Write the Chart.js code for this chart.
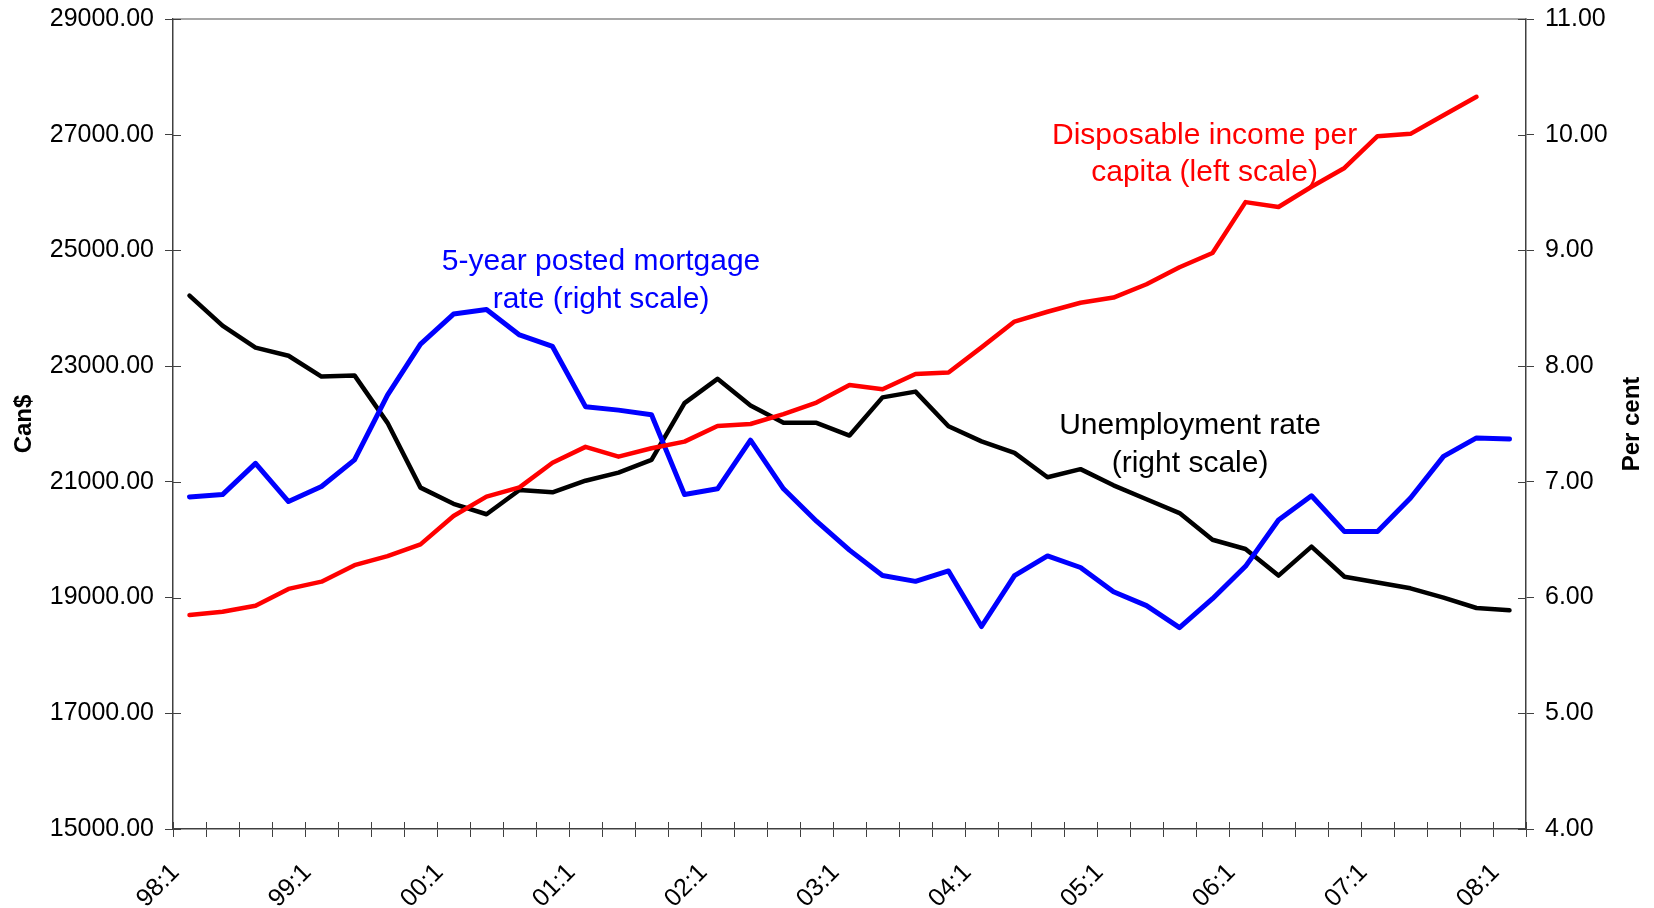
<!DOCTYPE html>
<html>
<head>
<meta charset="utf-8">
<script src="https://cdn.jsdelivr.net/npm/chart.js@4.4.1/dist/chart.umd.min.js"></script>
<style>
  html, body { margin: 0; padding: 0; background: #fff; }
  #wrap { width: 1654px; height: 908px; }
</style>
</head>
<body>
<div id="wrap"><canvas id="chart" width="1654" height="908"></canvas></div>
<script>
// quarters 98:1 .. 08:1
var quarters = [
  "98:1", "98:2", "98:3", "98:4", "99:1", "99:2", "99:3", "99:4",
  "00:1", "00:2", "00:3", "00:4", "01:1", "01:2", "01:3", "01:4",
  "02:1", "02:2", "02:3", "02:4", "03:1", "03:2", "03:3", "03:4",
  "04:1", "04:2", "04:3", "04:4", "05:1", "05:2", "05:3", "05:4",
  "06:1", "06:2", "06:3", "06:4", "07:1", "07:2", "07:3", "07:4",
  "08:1"
];

// Can$ (left scale), last quarter not available
var incomePerCapita = [
  18700, 18755, 18860, 19150, 19275, 19560, 19715, 19920,
  20410, 20745, 20905, 21330, 21605, 21435, 21580, 21695,
  21965, 22000, 22170, 22370, 22675, 22600, 22865, 22890,
  23325, 23770, 23940, 24095, 24185, 24415, 24710, 24955,
  25835, 25750, 26100, 26425, 26975, 27015, 27335, 27655,
  null
];

// per cent (right scale)
var mortgageRate = [
  6.87, 6.89, 7.16, 6.83, 6.96, 7.19, 7.75, 8.19,
  8.45, 8.49, 8.27, 8.17, 7.65, 7.62, 7.58, 6.89,
  6.94, 7.36, 6.94, 6.66, 6.41, 6.19, 6.14, 6.23,
  5.75, 6.19, 6.36, 6.26, 6.05, 5.93, 5.74, 5.99,
  6.27, 6.67, 6.88, 6.57, 6.57, 6.86, 7.22, 7.38,
  7.37
];

var unemploymentRate = [
  8.61, 8.35, 8.16, 8.09, 7.91, 7.92, 7.51, 6.95,
  6.81, 6.72, 6.93, 6.91, 7.01, 7.08, 7.19, 7.68,
  7.89, 7.66, 7.51, 7.51, 7.40, 7.73, 7.78, 7.48,
  7.35, 7.25, 7.04, 7.11, 6.97, 6.85, 6.73, 6.50,
  6.42, 6.19, 6.44, 6.18, 6.13, 6.08, 6.00, 5.91,
  5.89
];

var leftTicks = [15000, 17000, 19000, 21000, 23000, 25000, 27000, 29000];
var rightTicks = [4, 5, 6, 7, 8, 9, 10, 11];

// in-chart labels: first line centred at (quarter index, right-scale value)
var notes = [
  { lines: ["5-year posted mortgage", "rate (right scale)"], color: "#0000ff", at: [12.47, 8.905], gap: 38 },
  { lines: ["Disposable income per", "capita (left scale)"], color: "#ff0000", at: [30.76, 9.99], gap: 37 },
  { lines: ["Unemployment rate", "(right scale)"], color: "#000000", at: [30.32, 7.488], gap: 38 }
];

var FONT = "'Liberation Sans', Arial, sans-serif";
var axisColor = "#404040";

// short ticks crossing into the plot, grey top border, notes, right title
var extras = {
  id: "extras",
  afterDraw: function (chart) {
    var ctx = chart.ctx;
    var area = chart.chartArea;
    var x = chart.scales.x, y = chart.scales.y, y2 = chart.scales.y2;
    ctx.save();

    ctx.strokeStyle = "#8a8a8a";
    ctx.lineWidth = 1.5;
    ctx.beginPath();
    ctx.moveTo(area.left, area.top);
    ctx.lineTo(area.right, area.top);
    ctx.stroke();

    ctx.strokeStyle = axisColor;
    ctx.lineWidth = 1;
    ctx.beginPath();
    for (var k = 0; k <= quarters.length; k++) {
      var px = Math.round(x.getPixelForValue(k - 0.5)) + 0.5;
      ctx.moveTo(px, area.bottom);
      ctx.lineTo(px, area.bottom - 7);
    }
    leftTicks.forEach(function (v) {
      var py = Math.round(y.getPixelForValue(v)) + 0.5;
      ctx.moveTo(area.left, py);
      ctx.lineTo(area.left + 8, py);
    });
    rightTicks.forEach(function (v) {
      var py = Math.round(y2.getPixelForValue(v)) + 0.5;
      ctx.moveTo(area.right, py);
      ctx.lineTo(area.right - 8, py);
    });
    ctx.stroke();

    ctx.textAlign = "center";
    ctx.textBaseline = "middle";
    ctx.font = "30px " + FONT;
    notes.forEach(function (n) {
      var cx = x.getPixelForValue(n.at[0]);
      var cy = y2.getPixelForValue(n.at[1]);
      ctx.fillStyle = n.color;
      n.lines.forEach(function (t, i) {
        ctx.fillText(t, cx, cy + i * n.gap);
      });
    });

    ctx.fillStyle = "#000";
    ctx.font = "bold 24px " + FONT;
    ctx.translate(y2.right - 22, (area.top + area.bottom) / 2);
    ctx.rotate(-Math.PI / 2);
    ctx.fillText("Per cent", 0, 0);
    ctx.restore();
  }
};

// fixed axis sizes so the plot area sits where the original has it
function fixWidth(w) {
  return function (s) {
    s.width = w;
    s.paddingTop = 0;
    s.paddingBottom = 0;
  };
}

var element = document.getElementById("chart");

var chart = new Chart(element, {
  type: "line",
  data: {
    labels: quarters,
    datasets: [
      {
        label: "Disposable income per capita (left scale)",
        data: incomePerCapita,
        yAxisID: "y",
        borderColor: "#ff0000",
        borderWidth: 4.5
      },
      {
        label: "5-year posted mortgage rate (right scale)",
        data: mortgageRate,
        yAxisID: "y2",
        borderColor: "#0000ff",
        borderWidth: 5
      },
      {
        label: "Unemployment rate (right scale)",
        data: unemploymentRate,
        yAxisID: "y2",
        borderColor: "#000000",
        borderWidth: 4.5
      }
    ]
  },
  options: {
    responsive: false,
    animation: false,
    devicePixelRatio: 1,
    layout: { padding: { top: 19, left: 0, right: 0, bottom: 0 } },
    elements: {
      point: { radius: 0 },
      line: { tension: 0, borderCapStyle: "round", borderJoinStyle: "round" }
    },
    plugins: {
      legend: { display: false },
      tooltip: { enabled: false }
    },
    scales: {
      x: {
        type: "category",
        offset: true,
        grid: {
          offset: true,
          drawOnChartArea: false,
          drawTicks: true,
          tickLength: 8,
          color: axisColor
        },
        border: { color: axisColor, width: 1.5 },
        ticks: {
          autoSkip: false,
          maxRotation: 45,
          minRotation: 45,
          padding: 21,
          labelOffset: -14,
          color: "#000",
          font: { family: FONT, size: 25 },
          callback: function (val, i) {
            return i % 4 === 0 ? quarters[i] : "";
          }
        },
        afterFit: function (s) { s.height = 79; }
      },
      y: {
        position: "left",
        min: 15000,
        max: 29000,
        grid: {
          drawOnChartArea: false,
          tickLength: 8,
          color: axisColor
        },
        border: { color: axisColor, width: 1.5 },
        ticks: {
          stepSize: 2000,
          padding: 11,
          color: "#000",
          font: { family: FONT, size: 25 },
          callback: function (v) { return v.toFixed(2); }
        },
        title: {
          display: true,
          text: "Can$",
          color: "#000",
          padding: { top: 10, bottom: 0 },
          font: { family: FONT, size: 24, weight: "bold", lineHeight: 1.2 }
        },
        afterFit: fixWidth(173)
      },
      y2: {
        position: "right",
        min: 4,
        max: 11,
        grid: {
          drawOnChartArea: false,
          tickLength: 8,
          color: axisColor
        },
        border: { color: axisColor, width: 1.5 },
        ticks: {
          stepSize: 1,
          padding: 11,
          color: "#000",
          font: { family: FONT, size: 25 },
          callback: function (v) { return v.toFixed(2); }
        },
        afterFit: fixWidth(128)
      }
    }
  },
  plugins: [extras]
});
</script>
</body>
</html>
